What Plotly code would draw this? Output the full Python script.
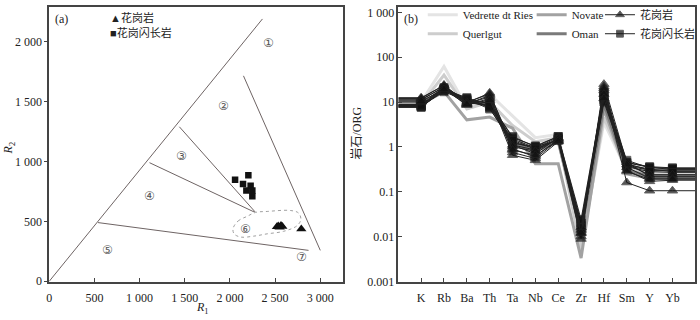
import plotly.graph_objects as go

# ---- (a) R1-R2 diagram ----
granite_r1 = [2520, 2535, 2550, 2565, 2580, 2790]
granite_r2 = [455, 462, 450, 465, 458, 436]
granodiorite_r1 = [2057, 2204, 2145, 2229, 2182, 2248, 2248]
granodiorite_r2 = [848, 885, 813, 797, 757, 757, 709]

# field boundaries (each a start/end pair)
boundary_r1 = [[0, 2360], [540, 2870], [1110, 2270], [1440, 2280], [2150, 3000]]
boundary_r2 = [[0, 2190], [490, 258], [990, 578], [1290, 578], [1715, 258]]

# field 6 envelope
envelope_r1 = [2035, 2090, 2193, 2284, 2412, 2668, 2759, 2785, 2741, 2594, 2412, 2265, 2120, 2046, 2035]
envelope_r2 = [441, 503, 543, 575, 583, 591, 570, 516, 463, 417, 396, 377, 369, 396, 441]

field_labels = ["①", "②", "③", "④", "⑤", "⑥", "⑦"]
field_label_r1 = [2430, 1930, 1462, 1107, 650, 2167, 2788]
field_label_r2 = [1988, 1461, 1046, 709, 259, 439, 203]

r1_ticks = [0, 500, 1000, 1500, 2000, 2500, 3000]
r1_ticktext = ["0", "500", "1 000", "1 500", "2 000", "2 500", "3 000"]
r2_ticks = [0, 500, 1000, 1500, 2000]
r2_ticktext = ["0", "500", "1 000", "1 500", "2 000"]

# ---- (b) ORG-normalised spider diagram ----
elements = ["K", "Rb", "Ba", "Th", "Ta", "Nb", "Ce", "Zr", "Hf", "Sm", "Y", "Yb"]

ref_names = ["Vedrette dt Ries", "Querlgut", "Novate", "Oman"]
ref_values = [
    [10, 62, 7.5, 15, 5.0, 1.6, 1.9, 0.006, 3.5, 0.30, 0.25, 0.25],
    [9, 40, 7.0, 10, 3.0, 1.3, 1.6, 0.005, 4.5, 0.32, 0.27, 0.27],
    [9, 17, 4.0, 4.6, 2.6, 0.42, 0.42, 0.0033, 7.0, 0.25, 0.20, 0.20],
    [8, 21, 10, 9, 1.2, 0.8, 1.3, 0.012, 9.0, 0.30, 0.22, 0.22],
]

granite_values = [
    [12, 24, 9.5, 16, 0.9, 0.60, 1.5, 0.012, 25, 0.45, 0.22, 0.22],
    [11, 22, 9.0, 14, 0.75, 0.55, 1.4, 0.0088, 22, 0.35, 0.20, 0.20],
    [10, 20, 8.5, 12, 0.65, 0.50, 1.3, 0.010, 18, 0.16, 0.105, 0.105],
    [12.5, 23, 10, 15, 1.1, 0.70, 1.6, 0.014, 20, 0.30, 0.17, 0.18],
    [11.5, 21, 9.2, 13, 1.0, 0.80, 1.5, 0.016, 15, 0.40, 0.24, 0.24],
    [10.5, 19, 8.8, 11, 0.85, 0.65, 1.35, 0.012, 12, 0.28, 0.19, 0.19],
]
granodiorite_values = [
    [8.5, 20, 12, 9.0, 1.7, 1.00, 1.7, 0.020, 16, 0.45, 0.36, 0.34],
    [8.0, 18, 11, 8.0, 1.5, 0.95, 1.6, 0.018, 14, 0.50, 0.34, 0.32],
    [7.6, 19, 11.5, 7.0, 1.3, 0.90, 1.5, 0.017, 13, 0.42, 0.30, 0.30],
    [8.2, 17, 10.5, 8.5, 1.2, 1.00, 1.4, 0.015, 11, 0.40, 0.32, 0.28],
    [7.8, 18.5, 12.5, 7.5, 1.1, 0.85, 1.5, 0.020, 12, 0.38, 0.30, 0.31],
    [8.8, 21, 11, 9.5, 1.6, 1.05, 1.7, 0.024, 17, 0.44, 0.35, 0.33],
    [8.3, 19.5, 10, 8.0, 1.4, 0.90, 1.45, 0.013, 10, 0.36, 0.28, 0.27],
]

org_ticks = [0.001, 0.01, 0.1, 1, 10, 100, 1000]
org_ticktext = ["0.001", "0.01", "0.1", "1", "10", "100", "1 000"]

W, H = 700, 320
SERIF = "Liberation Serif, Times New Roman, serif"
CJK = "Liberation Serif, Noto Sans CJK SC, serif"

fig = go.Figure()

# (a)
for bx, by in zip(boundary_r1, boundary_r2):
    fig.add_trace(go.Scatter(x=bx, y=by, mode="lines", line=dict(color="#6e6464", width=1),
                             xaxis="x", yaxis="y", showlegend=False, hoverinfo="skip"))
fig.add_trace(go.Scatter(x=envelope_r1, y=envelope_r2, mode="lines",
                         line=dict(color="#a0a0a0", width=1, dash="dot", shape="spline"),
                         xaxis="x", yaxis="y", showlegend=False, hoverinfo="skip"))
fig.add_trace(go.Scatter(x=granodiorite_r1, y=granodiorite_r2, mode="markers",
                         marker=dict(symbol="square", size=6.5, color="#111"),
                         xaxis="x", yaxis="y", showlegend=False))
fig.add_trace(go.Scatter(x=granite_r1, y=granite_r2, mode="markers",
                         marker=dict(symbol="triangle-up", size=9, color="#111"),
                         xaxis="x", yaxis="y", showlegend=False))
for lab, lx, ly in zip(field_labels, field_label_r1, field_label_r2):
    fig.add_annotation(x=lx, y=ly, xref="x", yref="y", text=lab, showarrow=False,
                       font=dict(family="DejaVu Sans", size=12, color="#555"))

# (b)
pos = list(range(len(elements)))
ext_x = [-1] + pos + [len(elements)]
ref_colors = ["#e4e4e4", "#cdcdcd", "#a2a2a2", "#7a7a7a"]
ref_legend = ["legend", "legend", "legend2", "legend2"]
for name, vals, col, lg in zip(ref_names, ref_values, ref_colors, ref_legend):
    fig.add_trace(go.Scatter(x=ext_x, y=[vals[0]] + vals + [vals[-1]], mode="lines", name=name,
                             line=dict(color=col, width=3), xaxis="x2", yaxis="y2",
                             legend=lg, hoverinfo="skip"))

msize_tri = [0] + [9] * len(elements) + [0]
msize_sq = [0] + [8] * len(elements) + [0]
for i, vals in enumerate(granodiorite_values):
    fig.add_trace(go.Scatter(x=ext_x, y=[vals[0]] + vals + [vals[-1]], mode="lines+markers",
                             name="花岗闪长岩", showlegend=(i == 0), legend="legend3",
                             line=dict(color="#222", width=1),
                             marker=dict(symbol="square", size=msize_sq, color="#111"),
                             xaxis="x2", yaxis="y2", legendrank=2))
for i, vals in enumerate(granite_values):
    fig.add_trace(go.Scatter(x=ext_x, y=[vals[0]] + vals + [vals[-1]], mode="lines+markers",
                             name="花岗岩", showlegend=(i == 0), legend="legend3",
                             line=dict(color="#222", width=1),
                             marker=dict(symbol="triangle-up", size=msize_tri, color="#111"),
                             xaxis="x2", yaxis="y2", legendrank=1))

ydom = [1 - 287 / H, 1 - 1 / H]
axis_common = dict(showline=True, mirror=True, linecolor="#444", linewidth=1.5,
                   showgrid=False, zeroline=False, tickcolor="#444",
                   tickfont=dict(family=SERIF, size=12, color="#222"))
leg_common = dict(y=1 + 6 / H, xanchor="left", yanchor="top", bgcolor="rgba(0,0,0,0)",
                  tracegroupgap=0)

fig.update_layout(
    width=W, height=H, margin=dict(l=0, r=0, t=0, b=0),
    paper_bgcolor="white", plot_bgcolor="white",
    xaxis=dict(domain=[46.7 / W, 343.3 / W], range=[0, 3250], tickvals=r1_ticks,
               ticktext=r1_ticktext, ticks="inside", ticklen=4, ticklabelstandoff=4,
               anchor="y", **axis_common),
    yaxis=dict(domain=ydom, range=[-8, 2290], tickvals=r2_ticks, ticktext=r2_ticktext,
               ticks="outside", ticklen=3, anchor="x", **axis_common),
    xaxis2=dict(domain=[399.3 / W, 699.3 / W], range=[-1, 12], tickvals=pos, ticktext=elements,
                ticks="inside", ticklen=4, ticklabelstandoff=4, anchor="y2", **axis_common),
    yaxis2=dict(domain=ydom, type="log", range=[-3.02, 3.12], tickvals=org_ticks,
                ticktext=org_ticktext, ticks="inside", ticklen=4, anchor="x2", **axis_common),
    legend=dict(x=424 / W, font=dict(family=SERIF, size=11, color="#222"), **leg_common),
    legend2=dict(x=534 / W, font=dict(family=SERIF, size=11, color="#222"), **leg_common),
    legend3=dict(x=603 / W, font=dict(family=CJK, size=11, color="#222"), **leg_common),
    showlegend=True,
)

# panel labels, in-panel key of (a) and axis titles
def note(px, py, text, size=12, family=SERIF, xanchor="center", angle=0):
    fig.add_annotation(x=px / W, y=1 - py / H, xref="paper", yref="paper", text=text,
                       showarrow=False, xanchor=xanchor, yanchor="middle", textangle=angle,
                       font=dict(family=family, size=size, color="#222"))

note(59, 13, "(a)")
note(412, 13, "(b)")
note(106, 12, "▲花岗岩", size=11, family=CJK, xanchor="left")
note(106, 28, "■花岗闪长岩", size=11, family=CJK, xanchor="left")
note(202, 314, "<i>R</i><sub>1</sub>")
note(7, 147, "<i>R</i><sub>2</sub>", angle=-90)
note(357, 132, "岩石/ORG", family=CJK, angle=-90)

# drop the default page margin so the 700x320 figure sits at the window origin
fig.write_html("out.html", config={"displayModeBar": False},
               post_script="document.body.style.margin='0';")
